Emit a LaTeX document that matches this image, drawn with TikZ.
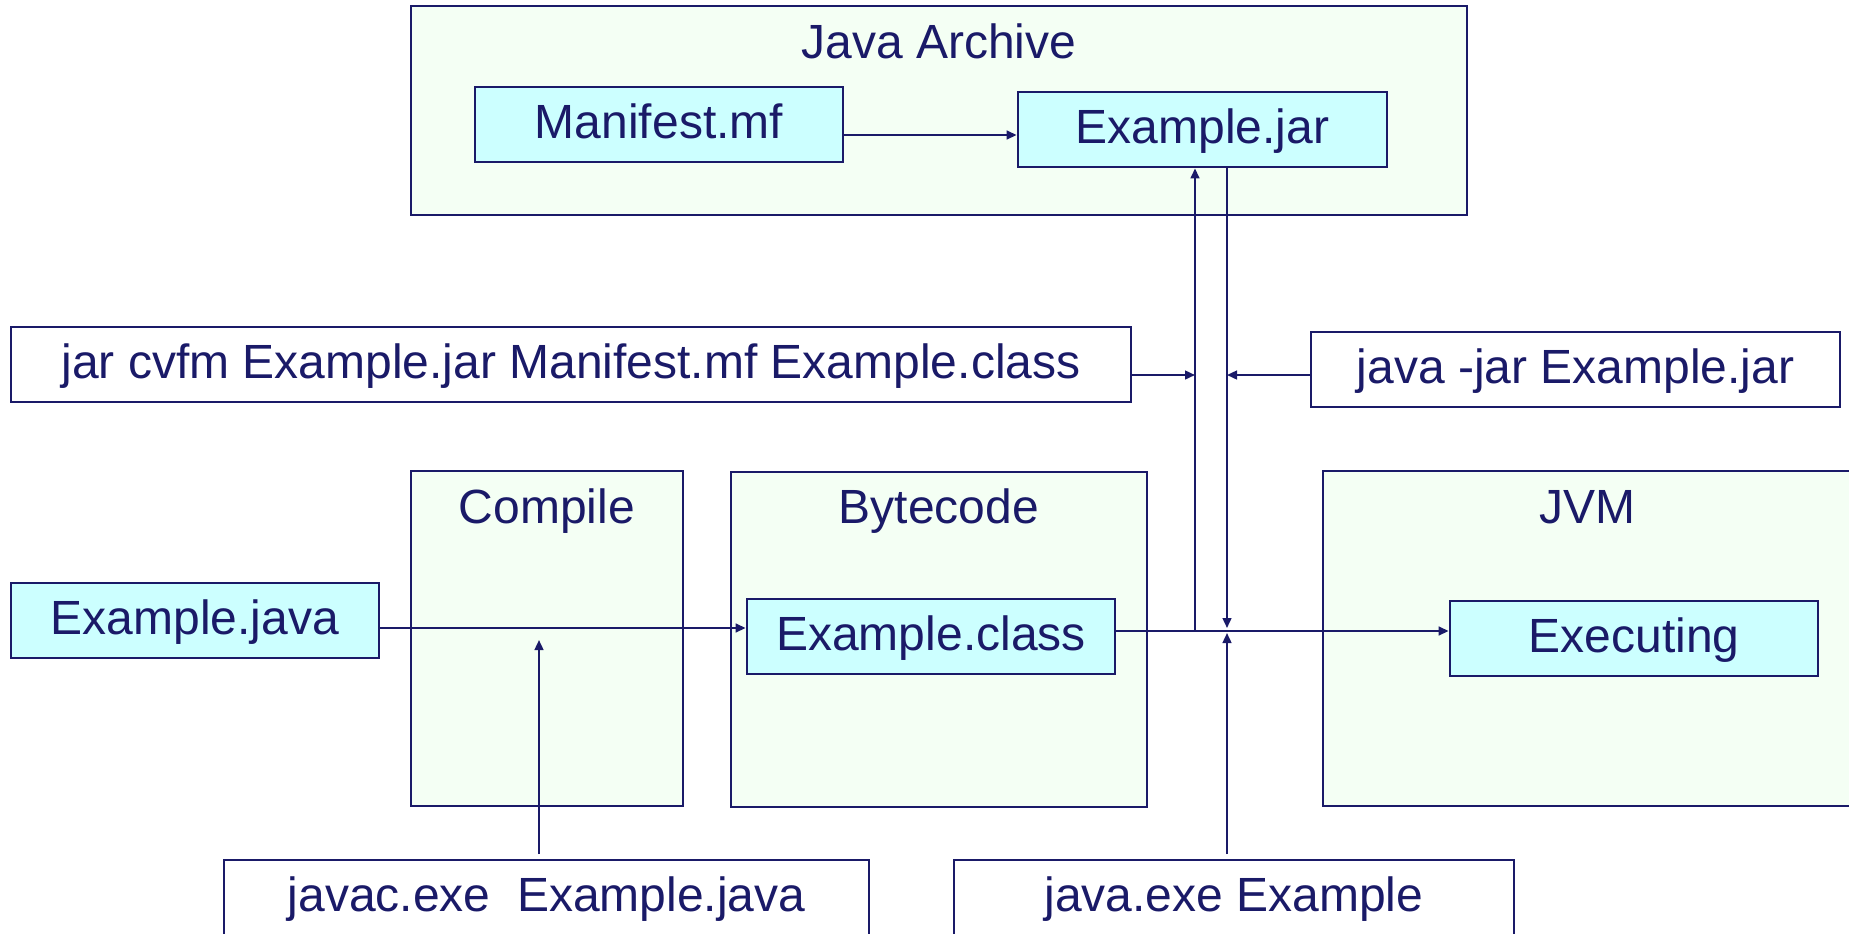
\documentclass[tikz,border=0pt]{standalone}
\usepackage{fontspec}
\setmainfont{Liberation Sans}
\usetikzlibrary{arrows.meta}
\definecolor{ink}{RGB}{26,26,104}
\definecolor{cyanfill}{RGB}{204,255,255}
\definecolor{panelfill}{RGB}{244,255,244}
\begin{document}
\begin{tikzpicture}[x=0.5pt, y=-0.5pt,
  font=\fontsize{24pt}{28pt}\selectfont, text=ink,
  panel/.style={draw=ink, line width=1.4pt, fill=panelfill, inner sep=0pt},
  filebox/.style={draw=ink, line width=1.4pt, fill=cyanfill, inner sep=0pt,
    minimum width=184pt, minimum height=37.5pt, text height=17.2pt, text depth=3pt},
  cmdbox/.style={draw=ink, line width=1.25pt, fill=white, inner sep=0pt,
    minimum height=37.5pt, text height=17.2pt, text depth=3pt},
  title/.style={anchor=base, inner sep=0pt},
  arr/.style={draw=ink, line width=1pt, -{Triangle[length=5pt, width=4.4pt]}},
  wire/.style={draw=ink, line width=1pt}]
\useasboundingbox (0,0) rectangle (1849,933);
\clip (0,0) rectangle (1849,933);

% container panels
\node[panel, minimum width=528pt, minimum height=104.5pt] (archive) at (939,110.5) {};
\node[panel, minimum width=136pt, minimum height=167.5pt] (compile) at (547,638.5) {};
\node[panel, minimum width=208pt, minimum height=167.5pt] (bytecode) at (939,639.5) {};
\node[panel, minimum width=276pt, minimum height=167.5pt] (jvm) at (1599,638.5) {};

% panel titles
\node[title] (tarchive) at (939,58) {Java Archive};
\node[title] (tcompile) at (547,523) {Compile};
\node[title] (tbytecode) at (939,523) {Bytecode};
\node[title] (tjvm) at (1587,523) {JVM};

% files
\node[filebox] (man) at (659,124.5) {Manifest.mf};
\node[filebox, minimum width=184.5pt] (jar) at (1202.5,129.5) {Example.jar};
\node[filebox] (ej) at (195,620.5) {Example.java};
\node[filebox] (ec) at (931,636.5) {Example.class};
\node[filebox] (ex) at (1634,638.5) {Executing};

% commands
\node[cmdbox, minimum width=560pt] (cv) at (571,364.5) {jar cvfm Example.jar Manifest.mf Example.class};
\node[cmdbox, minimum width=264.5pt] (jj) at (1575.5,369.5) {java -jar Example.jar};
\node[cmdbox, minimum width=322.5pt] (javac) at (546.5,897.5) {javac.exe~ Example.java};
\node[cmdbox, minimum width=280pt] (jexe) at (1234,897.5) {java.exe Example};

% junction points on the vertical wires
\coordinate (upx) at (1195,631);
\coordinate (downx) at (1227,628);
\coordinate (runx) at (1227,633);
\coordinate (cmpx) at (539,640);
\coordinate (cvx) at (1195,375);
\coordinate (jjx) at (1227,375);

% connectors
\draw[arr] (man.east |- 0,135) -- (jar.west |- 0,135);
\draw[arr] (ej.east |- 0,628) -- (ec.west |- 0,628);
\draw[arr] (ec.east |- 0,631) -- (ex.west |- 0,631);
\draw[arr] (upx) -- (upx |- jar.south);
\draw[arr] (downx |- jar.south) -- (downx);
\draw[arr] (cv.east |- cvx) -- (cvx);
\draw[arr] (jj.west |- jjx) -- (jjx);
\draw[arr] (cmpx |- 0,854) -- (cmpx);
\draw[arr] (runx |- 0,854) -- (runx);
\end{tikzpicture}
\end{document}
